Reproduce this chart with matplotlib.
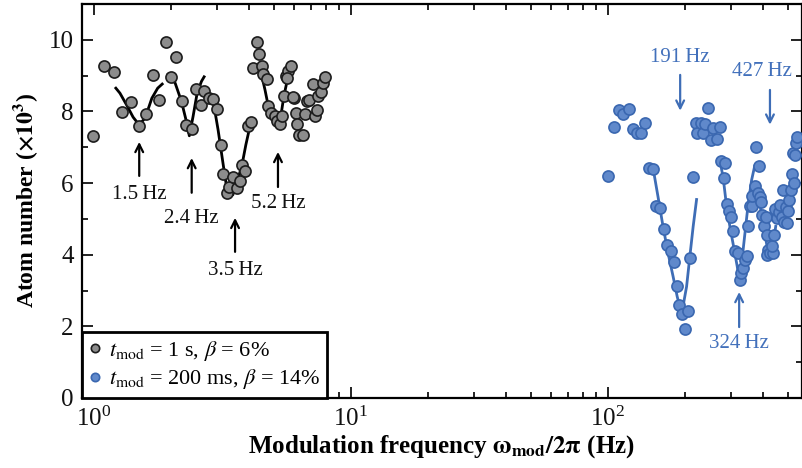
import matplotlib
matplotlib.use('Agg')
import matplotlib.pyplot as plt
from matplotlib.lines import Line2D

plt.rcParams['font.family'] = ['Liberation Serif', 'DejaVu Serif']
plt.rcParams['mathtext.fontset'] = 'stix'

# --- long modulation (t_mod = 1 s, beta = 6%) ---
grey_freq = [0.99, 1.094, 1.196, 1.29, 1.39, 1.50, 1.60, 1.70, 1.79, 1.90, 2.09, 1.99,
             2.21, 2.28, 2.40, 2.49, 2.60, 2.69, 2.80, 2.90, 3.00, 3.11, 3.19, 3.28,
             3.36, 3.47, 3.59, 3.70, 3.78, 3.88, 3.98, 4.08, 4.17, 4.30, 4.40, 4.49,
             4.56, 4.70, 4.77, 4.88, 5.06, 5.14, 5.29, 5.37, 5.48, 5.57, 5.70, 5.82,
             6.00, 6.11, 6.19, 6.30, 6.49, 6.64, 6.73, 6.89, 7.11, 7.25, 7.40, 7.47,
             7.63, 7.77, 7.93, 5.62, 5.96]
grey_atoms = [7.32, 9.27, 9.09, 7.99, 8.25, 7.59, 7.92, 9.02, 8.32, 9.93, 9.53, 8.95,
              8.30, 7.62, 7.51, 8.62, 8.17, 8.58, 8.37, 8.35, 8.07, 7.05, 6.25, 5.72,
              5.90, 6.17, 5.87, 6.05, 6.51, 6.33, 7.60, 7.71, 9.20, 9.95, 9.60, 9.27,
              9.04, 8.90, 8.14, 7.95, 7.86, 7.72, 7.65, 7.88, 8.42, 8.98, 9.12, 9.26,
              8.37, 7.95, 7.65, 7.33, 7.33, 7.93, 8.28, 8.32, 8.76, 7.86, 8.05, 8.42,
              8.53, 8.79, 8.95, 8.93, 8.40]

# fitted resonance curves for the long modulation
fit_grey = [
    ([1.207, 1.262, 1.34, 1.42, 1.497, 1.58, 1.68, 1.77, 1.86],
     [8.68, 8.51, 8.18, 7.84, 7.63, 7.81, 8.37, 8.65, 8.79]),
    ([1.93, 2.07, 2.19, 2.28, 2.35, 2.43, 2.52, 2.62, 2.70],
     [9.07, 8.79, 8.28, 7.77, 7.32, 7.86, 8.51, 8.84, 9.00]),
    ([2.90, 3.04, 3.19, 3.28, 3.47, 3.756, 3.90, 4.07],
     [8.35, 7.49, 6.47, 5.90, 5.67, 6.46, 7.07, 7.67]),
    ([4.49, 4.63, 4.77, 4.98, 5.17, 5.32, 5.48, 5.62, 5.79],
     [9.02, 8.60, 8.14, 7.81, 7.67, 7.81, 8.42, 8.79, 9.07]),
]

# --- short modulation (t_mod = 200 ms, beta = 14%) ---
blue_freq = [99.9, 105.2, 110.2, 114.9, 120.3, 124.8, 130.0, 135.0, 139.8, 144.4,
             149.8, 153.5, 159.1, 165.0, 170.0, 175.3, 180.1, 185.1, 189.6, 194.8,
             205.8, 200.1, 207.7, 214.7, 220.2, 222.8, 230.8, 234.5, 239.4, 245.6,
             250.7, 256.9, 264.6, 271.7, 276.0, 284.9, 282.3, 289.4, 294.8, 300.3,
             308.0, 311.9, 319.9, 325.2, 330.5, 336.0, 341.6, 347.4, 350.8, 356.8,
             365.0, 373.5, 362.6, 385.5, 378.2, 384.5, 390.3, 393.8, 398.4, 405.6,
             410.7, 414.4, 418.2, 414.4, 427.0, 437.5, 433.5, 442.5, 446.5, 455.9,
             464.1, 467.0, 474.2, 481.0, 484.0, 492.8, 498.6, 503.1, 507.6, 515.4,
             518.6, 523.3, 534.2, 539.0, 542.4, 529.4]
blue_atoms = [6.21, 7.56, 8.03, 7.93, 8.06, 7.51, 7.39, 7.41, 7.69, 6.42,
              6.40, 5.37, 5.30, 4.71, 4.28, 4.09, 3.79, 3.14, 2.60, 2.35,
              2.43, 1.92, 3.92, 6.18, 7.67, 7.39, 7.67, 7.39, 7.65, 8.09,
              7.21, 7.53, 7.23, 7.56, 6.63, 6.56, 6.15, 5.41, 5.23, 5.05,
              4.67, 4.11, 4.04, 3.30, 3.48, 3.62, 3.85, 3.97, 4.79, 5.37,
              5.37, 5.93, 5.65, 6.49, 7.02, 5.72, 5.60, 5.46, 5.11, 4.80,
              5.06, 4.55, 4.13, 3.99, 4.06, 4.06, 4.23, 4.55, 5.27, 5.02,
              5.20, 5.39, 5.06, 5.81, 4.92, 5.33, 4.88, 5.23, 5.53, 5.81,
              6.26, 6.84, 6.79, 7.13, 7.30, 6.00]

fit_blue = [
    ([149.8, 156.6, 163.8, 171.4, 179.3, 186.0, 193.6, 202.3, 208.3, 214.6, 221.6],
     [6.42, 5.62, 4.79, 4.04, 3.39, 2.83, 2.35, 3.11, 3.95, 4.79, 5.58]),
    ([272.8, 280.9, 289.6, 298.3, 309.2, 318.5, 323.4, 331.3, 341.3, 351.6, 362.4, 373.3],
     [6.63, 6.14, 5.34, 4.78, 4.18, 3.67, 3.34, 3.76, 4.60, 5.44, 6.09, 6.51]),
    ([375.6, 390.3, 404.6, 418.2, 427.0, 438.5, 450.5],
     [5.92, 5.39, 4.75, 4.13, 3.98, 4.27, 4.83]),
]

# resonance labels: (text, arrow x, tail y, tip y, label x, label y)
grey_marks = [
    ('1.5\u2009Hz', 1.5, 6.20, 7.15, 1.5, 5.67),
    ('2.4\u2009Hz', 2.4, 5.73, 6.70, 2.4, 5.00),
    ('3.5\u2009Hz', 3.54, 4.08, 5.03, 3.54, 3.55),
    ('5.2\u2009Hz', 5.2, 5.89, 6.87, 5.2, 5.42),
]
blue_marks = [
    ('191\u2009Hz', 191, 9.02, 8.02, 191, 9.50),
    ('427\u2009Hz', 427, 8.60, 7.63, 396, 9.11),
    ('324\u2009Hz', 324, 1.98, 2.96, 324, 1.51),
]

grey_face, grey_edge = '#8c8c8c', '#1c1c1c'
blue_face, blue_edge = '#6089cb', '#3a67b0'
blue_line = '#3e6db6'
blue_text = '#4270bb'

fig = plt.figure(figsize=(8.02, 4.68), dpi=100)
ax = fig.add_axes([0.1022, 0.1496, 0.8978, 0.8419])

for fx, fy in fit_grey:
    ax.plot(fx, fy, color='black', lw=2.0, zorder=2, solid_capstyle='butt')
for fx, fy in fit_blue:
    ax.plot(fx, fy, color=blue_line, lw=2.0, zorder=2, solid_capstyle='butt')

ax.plot(grey_freq, grey_atoms, 'o', ms=8, mfc=grey_face, mec=grey_edge, mew=1.2, zorder=3)
ax.plot(blue_freq, blue_atoms, 'o', ms=8, mfc=blue_face, mec=blue_edge, mew=1.2, zorder=3)

for txt, ax_x, y0, y1, lx, ly in grey_marks:
    ax.annotate('', xy=(ax_x, y1), xytext=(ax_x, y0),
                arrowprops=dict(arrowstyle='->', lw=1.6, color='black',
                                mutation_scale=14, shrinkA=0, shrinkB=0))
    ax.text(lx, ly, txt, ha='center', va='center', fontsize=15, color='#111111')
for txt, ax_x, y0, y1, lx, ly in blue_marks:
    ax.annotate('', xy=(ax_x, y1), xytext=(ax_x, y0),
                arrowprops=dict(arrowstyle='->', lw=1.6, color=blue_line,
                                mutation_scale=14, shrinkA=0, shrinkB=0))
    ax.text(lx, ly, txt, ha='center', va='center', fontsize=15, color=blue_text)

ax.set_xscale('log')
ax.set_xlim(0.898, 569)
ax.set_ylim(0, 11)
ax.set_yticks([0, 2, 4, 6, 8, 10])
ax.set_yticks([1, 3, 5, 7, 9], minor=True)
ax.tick_params(which='both', direction='in', top=True, right=True, width=1.3,
               labelsize=18, colors='#111111')
ax.tick_params(which='major', length=8, pad=6)
ax.tick_params(which='minor', length=4.5)
for s in ax.spines.values():
    s.set_linewidth(1.6)

ax.set_xlabel(r'Modulation frequency $\mathbf{\omega_{mod}/2\pi}$ (Hz)',
              fontsize=18, fontweight='bold', labelpad=2)
ax.set_ylabel(r'Atom number ($\mathbf{\times 10^3}$)', fontsize=17,
              fontweight='bold', labelpad=6)

handles = [
    Line2D([], [], ls='none', marker='o', ms=6, mfc=grey_face, mec=grey_edge, mew=1.2),
    Line2D([], [], ls='none', marker='o', ms=6, mfc=blue_face, mec=blue_edge, mew=1.2),
]
labels = [r'$t_{\rm mod}$ = 1 s, $\beta$ = 6%',
          r'$t_{\rm mod}$ = 200 ms, $\beta$ = 14%']
leg = ax.legend(handles, labels, loc='lower left', bbox_to_anchor=(0, 0),
                borderaxespad=0, fontsize=16, fancybox=False, framealpha=1,
                edgecolor='black', handlelength=0.6, handletextpad=0.3,
                borderpad=0.3, labelspacing=0.2)
leg.get_frame().set_linewidth(2.0)
leg.set_zorder(5)

fig.savefig('out.png', dpi=100)
